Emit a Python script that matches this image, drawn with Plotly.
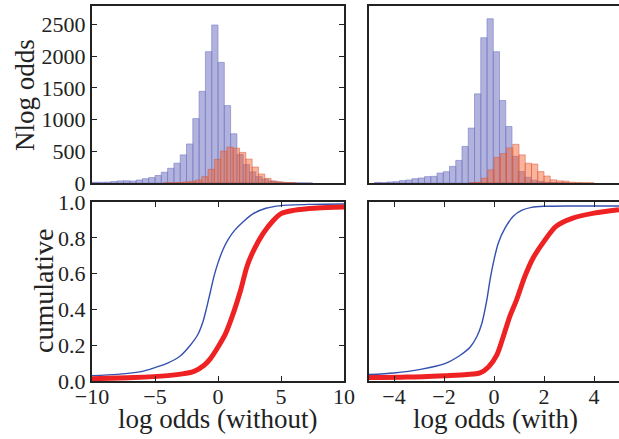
import plotly.graph_objects as go

# ---------------- data ----------------
# top-left histogram: log odds (without)
tl_blue_start = -10.0
tl_blue_width = 0.5
tl_blue_counts = [12, 12, 14, 22, 33, 35, 30, 47, 68, 85, 118, 170, 232, 312, 443, 615, 1015, 1445,
                  2070, 2490, 1900, 1220, 776, 450, 290, 175, 100, 60, 32, 18, 10, 5, 3, 2, 1]
tl_red_start = -4.29
tl_red_width = 0.5
tl_red_counts = [3, 5, 8, 16, 26, 47, 100, 215, 372, 503, 565, 548, 482, 377, 252, 142, 73, 31, 16, 7, 3]

# top-right histogram: log odds (with)
tr_blue_start = -4.78
tr_blue_width = 0.25
tr_blue_counts = [10, 5, 16, 21, 37, 47, 68, 79, 100, 105, 157, 178, 262, 356, 577, 865, 1405, 2290,
                  2589, 2070, 1300, 891, 420, 180, 90, 45, 25, 12, 8, 5, 3]
tr_red_start = -1.0
tr_red_width = 0.25
tr_red_counts = [5, 12, 76, 207, 404, 463, 553, 610, 443, 312, 299, 180, 110, 50, 34, 30, 12, 8, 5, 3]

# bottom-left cumulative: log odds (without)
bl_blue_x = [-10, -8, -6, -5, -4, -3, -2.2, -1.6, -1.2, -0.9, -0.6, -0.3, 0, 0.4, 0.8, 1.3, 2, 2.8,
             3.8, 5, 7.5, 10]
bl_blue_y = [0.03, 0.037, 0.054, 0.075, 0.1, 0.14, 0.2, 0.26, 0.33, 0.41, 0.5, 0.59, 0.66, 0.735,
             0.79, 0.84, 0.89, 0.935, 0.965, 0.98, 0.987, 0.989]
bl_red_x = [-10, -6.7, -4, -2.7, -1.9, -1.1, -0.6, 0, 0.6, 1.3, 1.8, 2.3, 2.85, 3.6, 4.3, 5, 6, 7.9, 10]
bl_red_y = [0.013, 0.019, 0.03, 0.041, 0.054, 0.088, 0.125, 0.19, 0.265, 0.396, 0.508, 0.64, 0.733,
            0.826, 0.89, 0.935, 0.953, 0.966, 0.972]

# bottom-right cumulative: log odds (with)
br_blue_x = [-5, -4, -2.94, -1.97, -1.35, -0.95, -0.69, -0.49, -0.29, -0.16, 0, 0.17, 0.44, 0.77, 1.1,
             1.5, 2, 3.15, 5]
br_blue_y = [0.036, 0.045, 0.065, 0.097, 0.144, 0.19, 0.247, 0.32, 0.45, 0.564, 0.677, 0.77, 0.854,
             0.92, 0.953, 0.97, 0.976, 0.978, 0.978]
br_red_x = [-5, -3.47, -1.97, -1.08, -0.56, -0.22, 0.11, 0.37, 0.63, 0.9, 1.23, 1.56, 2, 2.48, 3.15, 4, 5]
br_red_y = [0.019, 0.022, 0.03, 0.036, 0.045, 0.078, 0.144, 0.247, 0.36, 0.452, 0.583, 0.686, 0.78,
            0.864, 0.91, 0.938, 0.957]

top_yticks = [0, 500, 1000, 1500, 2000, 2500]
cum_yticks = [0.0, 0.2, 0.4, 0.6, 0.8, 1.0]
left_xticks = [-10, -5, 0, 5, 10]
right_xticks = [-4, -2, 0, 2, 4]

# ---------------- styling ----------------
W, H = 619, 439
FONT = "Liberation Serif"
INK = "#222222"
BLUE_FILL = "rgba(100,103,188,0.5)"
BLUE_EDGE = "rgba(120,122,200,0.6)"
RED_FILL = "rgba(245,95,45,0.47)"
RED_EDGE = "rgba(215,85,55,0.5)"


def centers(start, width, counts):
    return [start + width * (i + 0.5) for i in range(len(counts))]


fig = go.Figure()


def hist(start, width, counts, fill, edge, xa, ya):
    fig.add_trace(go.Bar(
        x=centers(start, width, counts), y=counts, width=width,
        marker=dict(color=fill, line=dict(color=edge, width=1)),
        xaxis=xa, yaxis=ya, showlegend=False, hoverinfo="skip"))


hist(tl_blue_start, tl_blue_width, tl_blue_counts, BLUE_FILL, BLUE_EDGE, "x", "y")
hist(tl_red_start, tl_red_width, tl_red_counts, RED_FILL, RED_EDGE, "x", "y")
hist(tr_blue_start, tr_blue_width, tr_blue_counts, BLUE_FILL, BLUE_EDGE, "x2", "y2")
hist(tr_red_start, tr_red_width, tr_red_counts, RED_FILL, RED_EDGE, "x2", "y2")


def curve(x, y, color, width, xa, ya):
    fig.add_trace(go.Scatter(
        x=x, y=y, mode="lines", line=dict(color=color, width=width, shape="spline", smoothing=0.8),
        xaxis=xa, yaxis=ya, showlegend=False, hoverinfo="skip"))


curve(bl_blue_x, bl_blue_y, "#3350b0", 1.4, "x3", "y3")
curve(bl_red_x, bl_red_y, "#ee2222", 5, "x3", "y3")
curve(br_blue_x, br_blue_y, "#3350b0", 1.4, "x4", "y4")
curve(br_red_x, br_red_y, "#ee2222", 5, "x4", "y4")

LEFT_DOM = [92 / W, 344 / W]
RIGHT_DOM = [369 / W, 1.0]
TOP_DOM = [1 - 183 / H, 1 - 6 / H]
BOT_DOM = [1 - 381 / H, 1 - 202 / H]

base = dict(showgrid=False, zeroline=False, showline=True, linecolor=INK, linewidth=2,
            automargin=False, tickfont=dict(family=FONT, size=22, color=INK))
tick_in = dict(ticks="inside", ticklen=5, tickwidth=1, tickcolor=INK)

fig.update_layout(
    template="none",
    width=W, height=H, margin=dict(l=0, r=0, t=0, b=0, pad=0, autoexpand=False),
    paper_bgcolor="white", plot_bgcolor="white", barmode="overlay",
    font=dict(family=FONT, color=INK),
    xaxis=dict(domain=LEFT_DOM, anchor="y", range=[-10, 10], showticklabels=False, ticks="",
               mirror=True, **base),
    yaxis=dict(domain=TOP_DOM, anchor="x", range=[0, 2790], tickvals=top_yticks, mirror="ticks",
               **tick_in, **base),
    xaxis2=dict(domain=RIGHT_DOM, anchor="y2", range=[-5, 5], showticklabels=False, ticks="",
                mirror=True, **base),
    yaxis2=dict(domain=TOP_DOM, anchor="x2", range=[0, 2790], showticklabels=False, ticks="",
                mirror=False, **base),
    xaxis3=dict(domain=LEFT_DOM, anchor="y3", range=[-10, 10], tickvals=left_xticks, mirror="ticks",
                ticklabelstandoff=-5, **tick_in, **base),
    yaxis3=dict(domain=BOT_DOM, anchor="x3", range=[0, 1], tickvals=cum_yticks, tickformat=".1f",
                mirror="ticks", **tick_in, **base),
    xaxis4=dict(domain=RIGHT_DOM, anchor="y4", range=[-5, 5], tickvals=right_xticks, mirror="ticks",
                ticklabelstandoff=-5, **tick_in, **base),
    yaxis4=dict(domain=BOT_DOM, anchor="x4", range=[0, 1], showticklabels=False, ticks="",
                mirror=False, **base),
)

TITLE_FONT = dict(family=FONT, size=27, color=INK)
fig.add_annotation(text="Nlog odds", textangle=-90, xref="paper", yref="paper",
                   x=25 / W, y=1 - 95 / H, xanchor="center", yanchor="middle",
                   showarrow=False, font=TITLE_FONT)
fig.add_annotation(text="cumulative", textangle=-90, xref="paper", yref="paper",
                   x=43 / W, y=1 - 291 / H, xanchor="center", yanchor="middle",
                   showarrow=False, font=dict(family=FONT, size=28, color=INK))
fig.add_annotation(text="log odds (without)", xref="paper", yref="paper",
                   x=217.5 / W, y=1 - 419 / H, xanchor="center", yanchor="middle",
                   showarrow=False, font=TITLE_FONT)
fig.add_annotation(text="log odds (with)", xref="paper", yref="paper",
                   x=495 / W, y=1 - 419 / H, xanchor="center", yanchor="middle",
                   showarrow=False, font=TITLE_FONT)

fig.write_html(
    "out.html",
    post_script="document.body.style.margin='0';document.body.style.overflow='hidden';",
)
